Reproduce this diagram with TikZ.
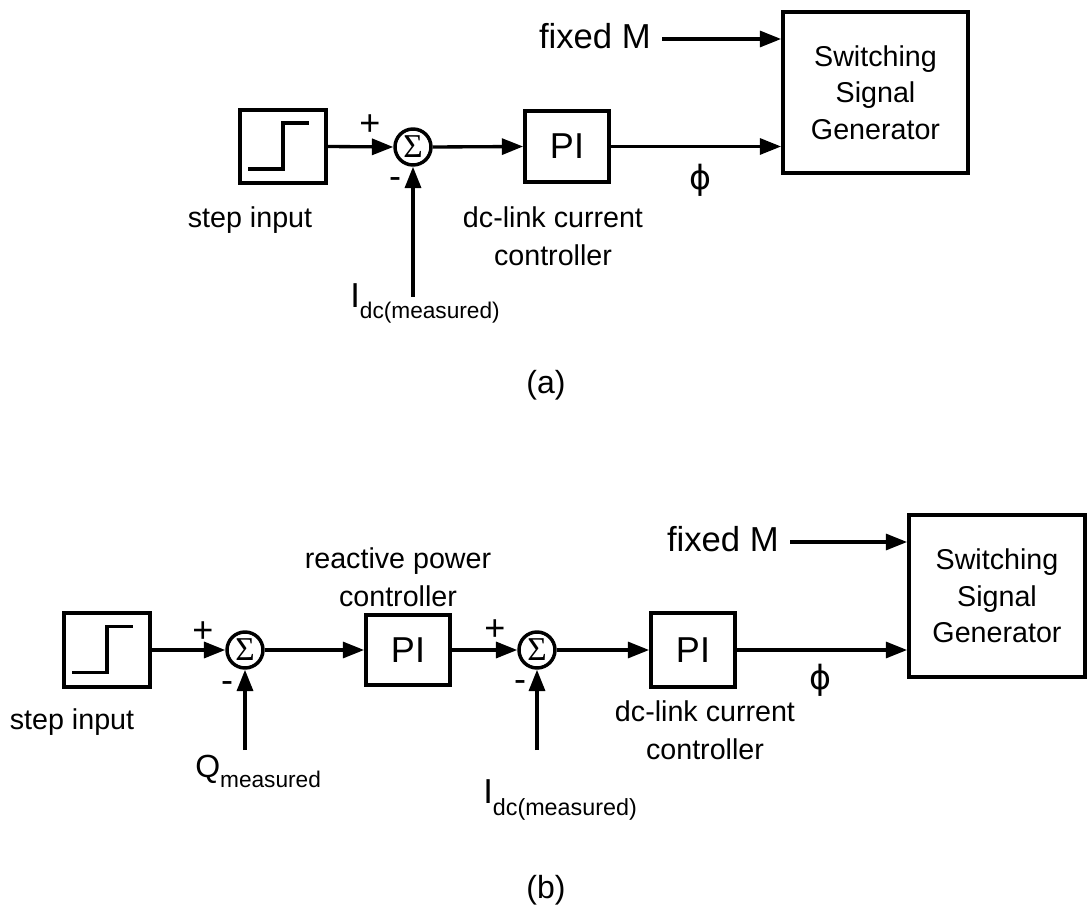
\documentclass[tikz,border=0pt]{standalone}
\usepackage{fontspec}
\setmainfont{Liberation Sans}
\newfontfamily\symfont{DejaVu Sans}
\newfontfamily\sigmafont{Liberation Serif}
\usetikzlibrary{arrows.meta}

\begin{document}
\begin{tikzpicture}[x=0.75pt,y=-0.75pt,
  blk/.style={draw,line width=2.8pt,inner sep=0pt},
  sumj/.style={draw,circle,line width=2.6pt,minimum size=27pt,inner sep=0pt,
    font=\sigmafont\fontsize{25}{25}\selectfont},
  arr/.style={line width=2.5pt,-{Triangle[length=16pt,width=12pt]}},
  wire/.style={line width=2.5pt},
  lbl/.style={font=\fontsize{21.5}{28.5}\selectfont,align=center,inner sep=0pt},
  ssgtext/.style={font=\fontsize{21.5}{27.4}\selectfont,align=center},
  inlbl/.style={font=\fontsize{26}{26}\selectfont,inner sep=0pt},
  sgn/.style={font=\fontsize{27}{27}\selectfont,inner sep=0pt},
  pitext/.style={font=\fontsize{27}{27}\selectfont},
  phil/.style={font=\symfont\fontsize{25}{25}\selectfont,inner sep=0pt},
  caplbl/.style={font=\fontsize{24}{24}\selectfont,inner sep=0pt}]
\useasboundingbox (0,0) rectangle (1090,916);

% ---------------- (a) dc-link current loop ----------------
\node[blk,minimum width=64.5pt,minimum height=54.75pt] (stepA) at (283,146.5) {};
\draw[wire] ([shift={(-35,22.5)}]stepA.center) -- ++(35,0) -- ++(0,-46) -- ++(26,0);
\node[lbl] (stepAl) at (250,220) {step input};

\node[sumj] (sA) at (413,147) {Σ};
\node[sgn] (pA) at (370,125) {+};
\node[sgn] (mA) at (395,183) {-};

\node[blk,pitext,minimum width=63pt,minimum height=53.25pt] (piA) at (567,146.5) {PI};
\node[lbl] (piAl) at (553,236) {dc-link current\\controller};

\node[blk,ssgtext,minimum width=138.75pt,minimum height=120.75pt] (ssgA) at (875.5,92.5)
  {Switching\\Signal\\Generator};

\node[inlbl,anchor=east] (fmA) at (651,36) {fixed M};
\coordinate (fmAs) at (662,39);
\node[phil] (phiA) at (700,180) {ϕ};

\node[anchor=base west,inner sep=0pt] (idcA) at (350,308)
  {{\fontsize{26}{26}\selectfont I}{\fontsize{17}{17}\selectfont\raisebox{-8pt}{dc(measured)}}};
\coordinate (idcAs) at (413,297);

\draw[arr] (stepA.east) -- (sA.west);
\draw[arr] (sA.east) -- (piA.west);
\draw[arr] (idcAs) -- (sA.south);
\draw[arr] (piA.east) -- (piA.east -| ssgA.west);
\draw[arr] (fmAs) -- (fmAs -| ssgA.west);

\node[caplbl] (capA) at (546,385) {(a)};

% ---------------- (b) cascaded reactive power loop ----------------
\node[blk,minimum width=64.5pt,minimum height=55.5pt] (stepB) at (107,650) {};
\draw[wire] ([shift={(-35,22.5)}]stepB.center) -- ++(35,0) -- ++(0,-46) -- ++(26,0);
\node[lbl] (stepBl) at (72,722) {step input};

\node[sumj] (sB1) at (245,650) {Σ};
\node[sgn] (pB1) at (203,632) {+};
\node[sgn] (mB1) at (227,687) {-};

\node[blk,pitext,minimum width=63pt,minimum height=52.5pt] (piB1) at (408,650) {PI};
\node[lbl] (piB1l) at (398,577) {reactive power\\controller};

\node[sumj] (sB2) at (537,650) {Σ};
\node[sgn] (pB2) at (495,630) {+};
\node[sgn] (mB2) at (520,686) {-};

\node[blk,pitext,minimum width=63pt,minimum height=55.5pt] (piB2) at (693,650) {PI};
\node[lbl] (piB2l) at (705,730) {dc-link current\\controller};

\node[blk,ssgtext,minimum width=132pt,minimum height=121.5pt] (ssgB) at (997,596)
  {Switching\\Signal\\Generator};

\node[inlbl,anchor=east] (fmB) at (779,539) {fixed M};
\coordinate (fmBs) at (790,542);
\node[phil] (phiB) at (820,680) {ϕ};

\node[anchor=base west,inner sep=0pt] (qB) at (195,777)
  {{\fontsize{24}{24}\selectfont Q}{\fontsize{17}{17}\selectfont\raisebox{-8pt}{measured}}};
\coordinate (qBs) at (245,750);

\node[anchor=base west,inner sep=0pt] (idcB) at (483,803)
  {{\fontsize{26}{26}\selectfont I}{\fontsize{17.5}{17.5}\selectfont\raisebox{-9pt}{dc(measured)}}};
\coordinate (idcBs) at (537,750);

\draw[arr] (stepB.east) -- (sB1.west);
\draw[arr] (sB1.east) -- (piB1.west);
\draw[arr] (qBs) -- (sB1.south);
\draw[arr] (piB1.east) -- (sB2.west);
\draw[arr] (sB2.east) -- (piB2.west);
\draw[arr] (idcBs) -- (sB2.south);
\draw[arr] (piB2.east) -- (piB2.east -| ssgB.west);
\draw[arr] (fmBs) -- (fmBs -| ssgB.west);

\node[caplbl] (capB) at (546,890) {(b)};
\end{tikzpicture}
\end{document}
